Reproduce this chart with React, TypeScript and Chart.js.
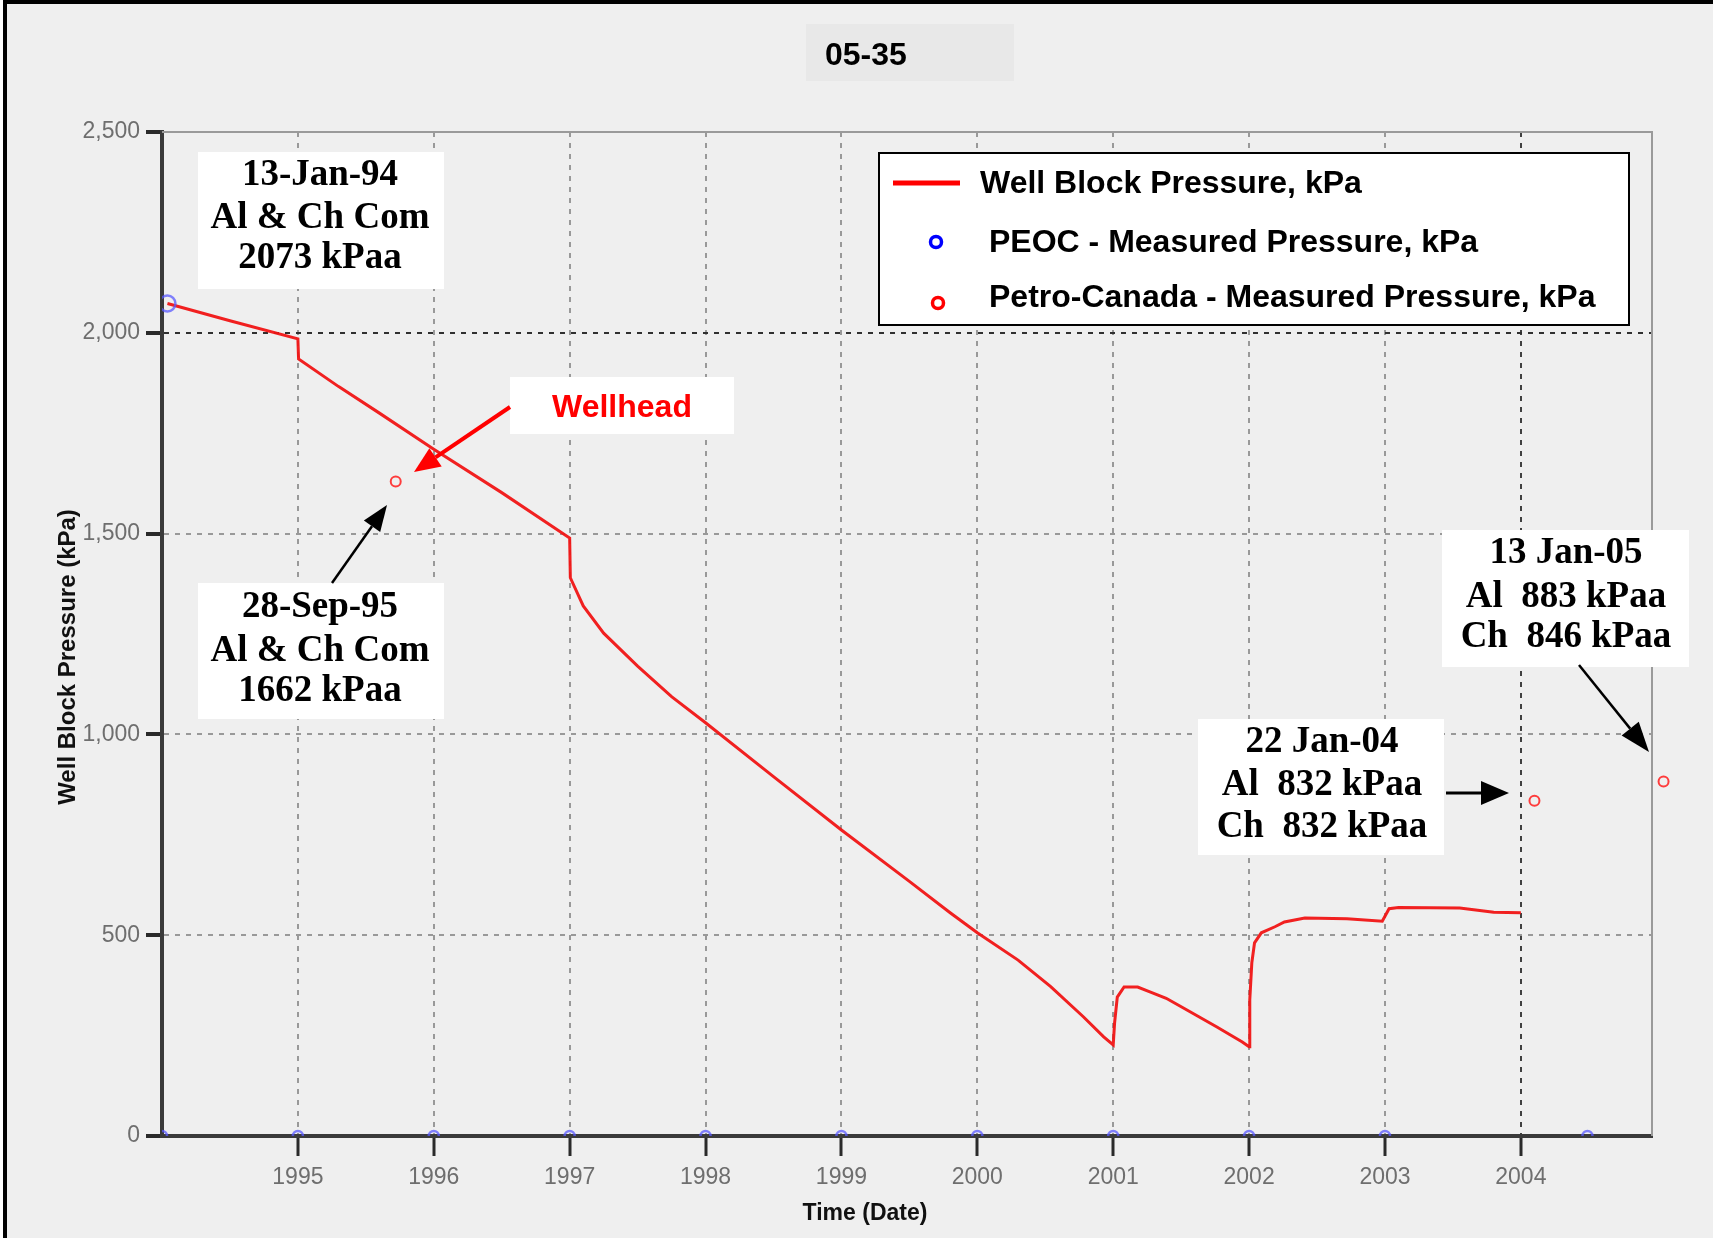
import React, { useEffect, useRef } from 'react';
import { Chart, registerables } from 'chart.js';

Chart.register(...registerables);

// ---------- data ----------
const chartTitle = '05-35';
const yAxisTitle = 'Well Block Pressure (kPa)';
const xAxisTitle = 'Time (Date)';

const yearTicks = [1995, 1996, 1997, 1998, 1999, 2000, 2001, 2002, 2003, 2004];
const pressureTicks = [0, 500, 1000, 1500, 2000, 2500];

// Well Block Pressure, kPa (red line)
const wbpYears = [
  1994.04, 1994.5, 1995.0, 1995.005, 1995.3, 1995.6, 1996.0, 1996.5, 1997.0, 1997.005,
  1997.1, 1997.25, 1997.5, 1997.75, 1998.0, 1998.5, 1999.0, 1999.5, 1999.8, 2000.0,
  2000.3, 2000.54, 2000.78, 2000.93, 2001.0, 2001.01, 2001.03, 2001.08, 2001.18, 2001.27,
  2001.39, 2001.52, 2001.76, 2001.95, 2002.0, 2002.005, 2002.02, 2002.04, 2002.09, 2002.19,
  2002.26, 2002.41, 2002.72, 2002.98, 2003.03, 2003.1, 2003.55, 2003.8, 2004.0,
];
const wbpValues = [
  2073, 2030, 1985, 1935, 1866, 1800, 1710, 1602, 1489, 1390,
  1320, 1252, 1170, 1094, 1029, 895, 762, 634, 556, 506,
  438, 372, 297, 247, 227, 281, 346, 371, 371, 359,
  343, 318, 272, 234, 222, 339, 431, 481, 506, 521,
  533, 543, 541, 535, 566, 569, 568, 557, 556,
];

// PEOC - Measured Pressure, kPa (blue circles)
const peocYears = [1994.04, 1994.0, 1995, 1996, 1997, 1998, 1999, 2000, 2001, 2002, 2003, 2004.49];
const peocValues = [2073, 0, 0, 0, 0, 0, 0, 0, 0, 0, 0, 0];

// Petro-Canada - Measured Pressure, kPa (red circles)
const pcYears = [1995.72, 2004.1, 2005.05];
const pcValues = [1630, 835, 883];

const legendLabels = [
  'Well Block Pressure, kPa',
  'PEOC - Measured Pressure, kPa',
  'Petro-Canada - Measured Pressure, kPa',
];

const noteTexts = [
  ['13-Jan-94', 'Al & Ch Com', '2073 kPaa'],
  ['28-Sep-95', 'Al & Ch Com', '1662 kPaa'],
  ['22 Jan-04', 'Al  832 kPaa', 'Ch  832 kPaa'],
  ['13 Jan-05', 'Al  883 kPaa', 'Ch  846 kPaa'],
];
const wellheadText = 'Wellhead';

// ---------- layout / style ----------
const W = 1713;
const H = 1238;
const SANS = '"Liberation Sans", Arial, Helvetica, sans-serif';
const SERIF = '"Liberation Serif", "Times New Roman", Times, serif';

const noteBoxes = [
  { x: 198, y: 152, w: 246, h: 137, cx: 320, base: [185, 228, 268] },
  { x: 198, y: 583, w: 246, h: 136, cx: 320, base: [617, 661, 701] },
  { x: 1198, y: 719, w: 246, h: 136, cx: 1322, base: [752, 795, 837] },
  { x: 1442, y: 530, w: 247, h: 137, cx: 1566, base: [563, 607, 647] },
];

function arrow(ctx: CanvasRenderingContext2D, x1: number, y1: number, x2: number, y2: number,
  color: string, lw: number, headLen: number, headW: number) {
  const ang = Math.atan2(y2 - y1, x2 - x1);
  const bx = x2 - headLen * Math.cos(ang);
  const by = y2 - headLen * Math.sin(ang);
  ctx.save();
  ctx.strokeStyle = color;
  ctx.fillStyle = color;
  ctx.lineWidth = lw;
  ctx.beginPath();
  ctx.moveTo(x1, y1);
  ctx.lineTo(bx, by);
  ctx.stroke();
  const px = -Math.sin(ang) * headW / 2;
  const py = Math.cos(ang) * headW / 2;
  ctx.beginPath();
  ctx.moveTo(x2, y2);
  ctx.lineTo(bx + px, by + py);
  ctx.lineTo(bx - px, by - py);
  ctx.closePath();
  ctx.fill();
  ctx.restore();
}

const decorPlugin = {
  id: 'decor',
  beforeDraw(chart: any) {
    const ctx = chart.ctx as CanvasRenderingContext2D;
    ctx.save();
    ctx.fillStyle = '#ffffff';
    ctx.fillRect(0, 0, W, H);
    ctx.fillStyle = '#efefef';
    ctx.fillRect(7, 4, W - 7, H - 4);
    ctx.fillStyle = '#000000';
    ctx.fillRect(3, 0, 4, H);
    ctx.fillRect(3, 0, W - 3, 4);
    ctx.restore();
  },
  afterDatasetsDraw(chart: any) {
    // points that lie just beyond the right edge of the plot
    const ctx = chart.ctx as CanvasRenderingContext2D;
    const area = chart.chartArea;
    const meta = chart.getDatasetMeta(1);
    ctx.save();
    meta.data.forEach((el: any) => {
      if (el.x > area.right + 1) {
        ctx.strokeStyle = 'rgba(255,40,40,0.9)';
        ctx.lineWidth = 2;
        ctx.beginPath();
        ctx.arc(el.x, el.y, 5, 0, Math.PI * 2);
        ctx.stroke();
      }
    });
    ctx.restore();
  },
  afterDraw(chart: any) {
    const ctx = chart.ctx as CanvasRenderingContext2D;
    const a = chart.chartArea;
    ctx.save();
    // top & right frame
    ctx.strokeStyle = '#9a9a9a';
    ctx.lineWidth = 2;
    ctx.beginPath();
    ctx.moveTo(a.left, a.top);
    ctx.lineTo(a.right, a.top);
    ctx.lineTo(a.right, a.bottom);
    ctx.stroke();

    // title
    ctx.fillStyle = '#e8e8e8';
    ctx.fillRect(806, 24, 208, 57);
    ctx.fillStyle = '#000';
    ctx.font = `bold 32px ${SANS}`;
    ctx.textAlign = 'left';
    ctx.textBaseline = 'alphabetic';
    ctx.fillText(chartTitle, 825, 65);

    // axis titles
    ctx.fillStyle = '#111';
    ctx.font = `bold 23px ${SANS}`;
    ctx.textAlign = 'center';
    ctx.textBaseline = 'middle';
    ctx.fillText(xAxisTitle, 865, 1214);
    ctx.save();
    ctx.translate(68.5, 657);
    ctx.rotate(-Math.PI / 2);
    ctx.font = `bold 24px ${SANS}`;
    ctx.fillText(yAxisTitle, 0, 0);
    ctx.restore();

    // legend
    ctx.fillStyle = '#ffffff';
    ctx.fillRect(878, 152, 752, 174);
    ctx.strokeStyle = '#000';
    ctx.lineWidth = 2;
    ctx.strokeRect(879, 153, 750, 172);
    ctx.strokeStyle = '#ff0000';
    ctx.lineWidth = 5;
    ctx.beginPath();
    ctx.moveTo(893, 183);
    ctx.lineTo(960, 183);
    ctx.stroke();
    ctx.lineWidth = 3.5;
    ctx.strokeStyle = '#0000ff';
    ctx.beginPath();
    ctx.arc(936, 242, 5.5, 0, Math.PI * 2);
    ctx.stroke();
    ctx.strokeStyle = '#ff0000';
    ctx.beginPath();
    ctx.arc(938, 303, 5.5, 0, Math.PI * 2);
    ctx.stroke();
    ctx.fillStyle = '#000';
    ctx.font = `bold 32px ${SANS}`;
    ctx.textAlign = 'left';
    ctx.textBaseline = 'alphabetic';
    ctx.fillText(legendLabels[0], 980, 193);
    ctx.fillText(legendLabels[1], 989, 252);
    ctx.fillText(legendLabels[2], 989, 307);

    // annotation boxes
    noteBoxes.forEach((b, i) => {
      ctx.fillStyle = '#ffffff';
      ctx.fillRect(b.x, b.y, b.w, b.h);
      ctx.fillStyle = '#000';
      ctx.font = `bold 37px ${SERIF}`;
      ctx.textAlign = 'center';
      ctx.textBaseline = 'alphabetic';
      noteTexts[i].forEach((t, j) => ctx.fillText(t, b.cx, b.base[j]));
    });

    // wellhead label
    ctx.fillStyle = '#ffffff';
    ctx.fillRect(510, 377, 224, 57);
    ctx.fillStyle = '#ff0000';
    ctx.font = `bold 32px ${SANS}`;
    ctx.textAlign = 'center';
    ctx.fillText(wellheadText, 622, 417);

    // arrows
    arrow(ctx, 510, 407, 414, 472, '#ff0000', 4, 26, 22);
    arrow(ctx, 332, 583, 387, 505, '#000', 2.5, 26, 20);
    arrow(ctx, 1446, 793, 1509, 793, '#000', 3, 28, 24);
    arrow(ctx, 1579, 665, 1649, 752, '#000', 2.5, 30, 22);
    ctx.restore();
  },
};

export default function App() {
  const ref = useRef<HTMLCanvasElement | null>(null);

  useEffect(() => {
    if (!ref.current) return;
    const peocRadius = peocYears.map((_, i) => (i === 0 ? 8 : 5));
    const chart = new Chart(ref.current, {
      type: 'scatter',
      data: {
        datasets: [
          {
            label: legendLabels[1],
            data: peocYears.map((x, i) => ({ x, y: peocValues[i] })),
            showLine: false,
            pointRadius: peocRadius,
            pointBorderWidth: 2.5,
            pointBorderColor: 'rgba(90,90,255,0.75)',
            pointBackgroundColor: 'rgba(0,0,0,0)',
          },
          {
            label: legendLabels[2],
            data: pcYears.map((x, i) => ({ x, y: pcValues[i] })),
            showLine: false,
            pointRadius: 5,
            pointBorderWidth: 2,
            pointBorderColor: 'rgba(255,40,40,0.9)',
            pointBackgroundColor: 'rgba(0,0,0,0)',
          },
          {
            label: legendLabels[0],
            data: wbpYears.map((x, i) => ({ x, y: wbpValues[i] })),
            showLine: true,
            borderColor: 'rgba(240,20,20,0.95)',
            borderWidth: 3,
            pointRadius: 0,
            tension: 0,
          },
        ],
      },
      options: {
        responsive: false,
        animation: false,
        devicePixelRatio: 1,
        layout: { padding: { top: 132, right: 61, left: 0, bottom: 0 } },
        plugins: {
          legend: { display: false },
          tooltip: { enabled: false },
          title: { display: false },
        },
        scales: {
          x: {
            type: 'linear',
            min: 1994,
            max: 2004.965,
            afterBuildTicks: (s: any) => {
              s.ticks = [1994, ...yearTicks].map((v) => ({ value: v }));
            },
            afterFit: (s: any) => {
              s.height = 102;
            },
            ticks: {
              autoSkip: false,
              maxRotation: 0,
              padding: 8,
              color: '#6e6e6e',
              font: { family: SANS, size: 23 },
              callback: (v: any) => (yearTicks.includes(Number(v)) ? String(v) : ''),
            },
            grid: {
              lineWidth: 2,
              color: (c: any) => {
                const v = c.tick ? c.tick.value : 0;
                if (v === 1994) return 'rgba(0,0,0,0)';
                if (v === 2004) return '#404040';
                return '#999999';
              },
              tickLength: 20,
              tickWidth: 3,
              tickColor: (c: any) => (c.tick && c.tick.value === 1994 ? 'rgba(0,0,0,0)' : '#2a2a2a'),
            },
            border: { display: true, color: '#3a3a3a', width: 4, dash: [5, 6] },
          },
          y: {
            type: 'linear',
            min: 0,
            max: 2500,
            afterBuildTicks: (s: any) => {
              s.ticks = pressureTicks.map((v) => ({ value: v }));
            },
            afterFit: (s: any) => {
              s.width = 162;
            },
            ticks: {
              padding: 6,
              color: '#6e6e6e',
              font: { family: SANS, size: 23 },
              callback: (v: any) => Number(v).toLocaleString('en-US'),
            },
            grid: {
              lineWidth: 2,
              color: (c: any) => {
                const v = c.tick ? c.tick.value : 0;
                if (v === 0) return 'rgba(0,0,0,0)';
                if (v === 2000) return '#303030';
                return '#999999';
              },
              tickLength: 16,
              tickWidth: 4,
              tickColor: '#2a2a2a',
            },
            border: { display: true, color: '#3a3a3a', width: 4, dash: [5, 6] },
          },
        },
      } as any,
      plugins: [decorPlugin],
    });
    return () => chart.destroy();
  }, []);

  return (
    <div style={{ position: 'absolute', left: 0, top: 0, width: W, height: H }}>
      <canvas ref={ref} width={W} height={H} style={{ display: 'block', width: W, height: H }} />
    </div>
  );
}
